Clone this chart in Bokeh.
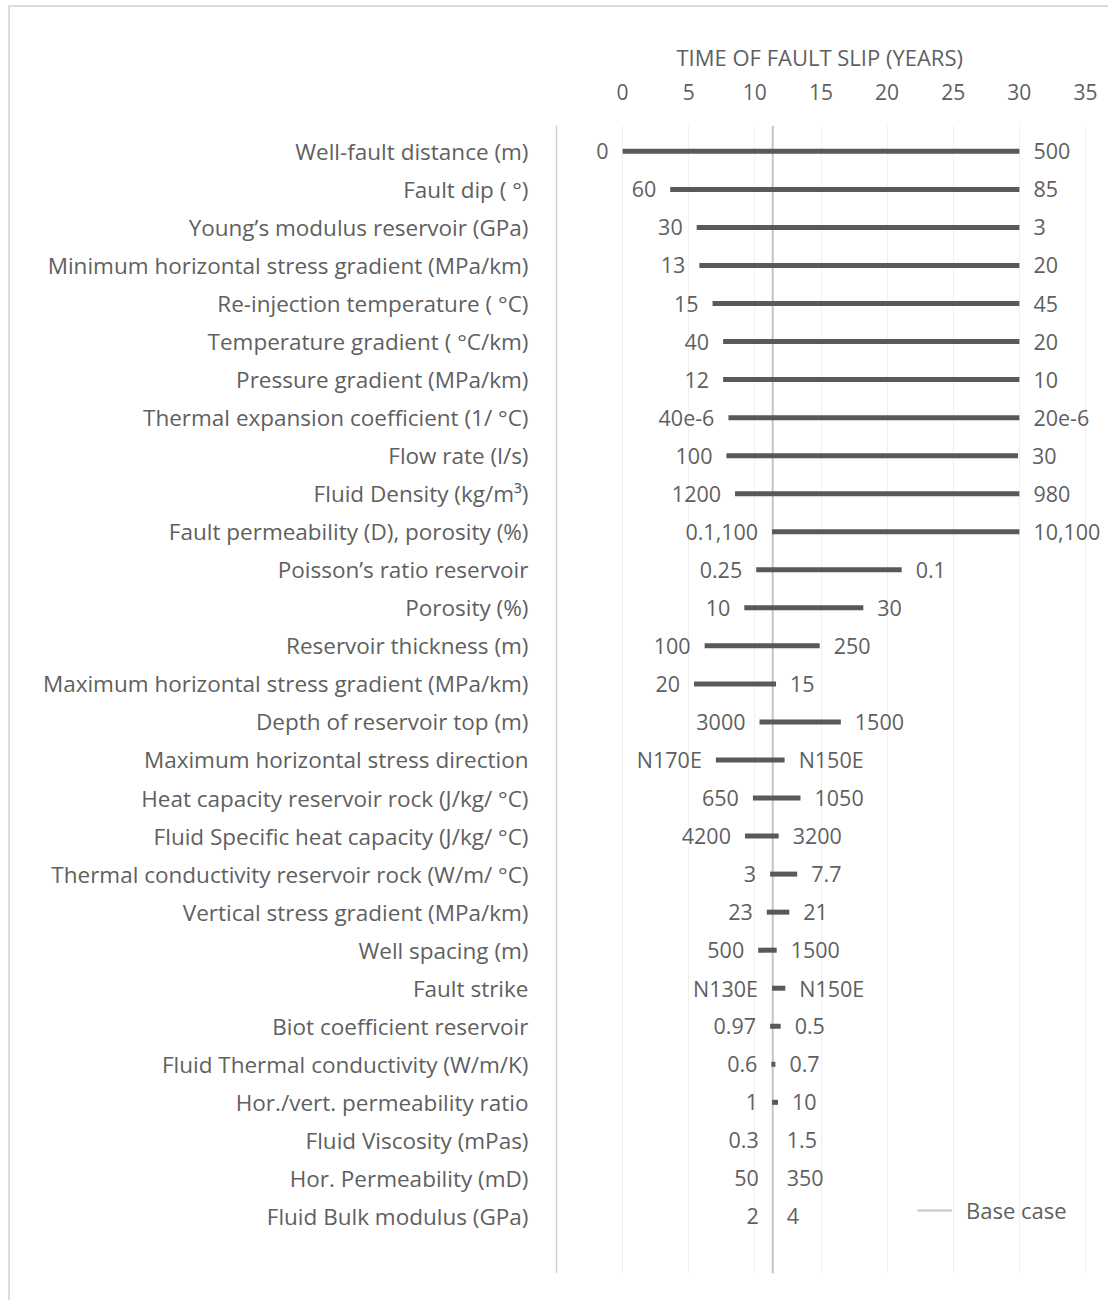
from bokeh.plotting import figure
from bokeh.models import (Range1d, FixedTicker, ColumnDataSource, Legend,
                          LegendItem, LabelSet)
from bokeh.core.properties import value
from bokeh.embed import file_html
from bokeh.resources import INLINE

# Sensitivity of the time of fault slip to each input parameter
parameters = [
    "Well-fault distance (m)",
    "Fault dip ( \u00b0)",
    "Young\u2019s modulus reservoir (GPa)",
    "Minimum horizontal stress gradient (MPa/km)",
    "Re-injection temperature ( \u00b0C)",
    "Temperature gradient ( \u00b0C/km)",
    "Pressure gradient (MPa/km)",
    "Thermal expansion coefficient (1/ \u00b0C)",
    "Flow rate (l/s)",
    "Fluid Density (kg/m\u00b3)",
    "Fault permeability (D), porosity (%)",
    "Poisson\u2019s ratio reservoir",
    "Porosity (%)",
    "Reservoir thickness (m)",
    "Maximum horizontal stress gradient (MPa/km)",
    "Depth of reservoir top (m)",
    "Maximum horizontal stress direction",
    "Heat capacity reservoir rock (J/kg/ \u00b0C)",
    "Fluid Specific heat capacity (J/kg/ \u00b0C)",
    "Thermal conductivity reservoir rock (W/m/ \u00b0C)",
    "Vertical stress gradient (MPa/km)",
    "Well spacing (m)",
    "Fault strike",
    "Biot coefficient reservoir",
    "Fluid Thermal conductivity (W/m/K)",
    "Hor./vert. permeability ratio",
    "Fluid Viscosity (mPas)",
    "Hor. Permeability (mD)",
    "Fluid Bulk modulus (GPa)",
]

# Parameter values at the two ends of each bar
low_labels = ["0", "60", "30", "13", "15", "40", "12", "40e-6", "100", "1200",
              "0.1,100", "0.25", "10", "100", "20", "3000", "N170E", "650", "4200",
              "3", "23", "500", "N130E", "0.97", "0.6", "1", "0.3", "50", "2"]
high_labels = ["500", "85", "3", "20", "45", "20", "10", "20e-6", "30", "980",
               "10,100", "0.1", "30", "250", "15", "1500", "N150E", "1050", "3200",
               "7.7", "21", "1500", "N150E", "0.5", "0.7", "10", "1.5", "350", "4"]

# Time of fault slip (years) for the low and high parameter value
slip_low = [0.0, 3.6, 5.6, 5.8, 6.8, 7.6, 7.6, 8.0, 7.85, 8.5,
            11.3, 10.1, 9.2, 6.2, 5.4, 10.35, 7.05, 9.85, 9.25,
            11.15, 10.9, 10.25, 11.3, 11.15, 11.25, 11.3, 11.35, 11.35, 11.35]
slip_high = [30.0, 30.0, 30.0, 30.0, 30.0, 30.0, 30.0, 30.0, 29.9, 30.0,
             30.0, 21.1, 18.2, 14.9, 11.6, 16.5, 12.25, 13.45, 11.8,
             13.2, 12.6, 11.65, 12.3, 11.95, 11.55, 11.75, 11.35, 11.35, 11.35]

base_case = 11.35
year_ticks = [0, 5, 10, 15, 20, 25, 30, 35]

TEXT = "#5f5f5f"
FONT = "Open Sans"

rows = list(range(len(parameters)))
src = ColumnDataSource(dict(row=rows, lo=slip_low, hi=slip_high,
                            lo_txt=low_labels, hi_txt=high_labels))

y_top, y_bottom = -0.68, len(parameters) + 0.5

# the frame runs a little past 35 years so the right-hand values have room
p = figure(width=1100, height=1295,
           x_range=Range1d(-5, 36.89), y_range=Range1d(y_bottom, y_top),
           x_axis_location="above", output_backend="svg", toolbar_location=None,
           min_border_left=546, min_border_right=0,
           min_border_top=118, min_border_bottom=29)
p.styles = {"margin-left": "8px", "margin-top": "5px",
            "border-top": "2px solid #dcdcdc", "border-left": "2px solid #dcdcdc"}
p.outline_line_color = None
p.background_fill_color = "white"
p.border_fill_color = "white"

# value-axis title
p.title.text = "TIME OF FAULT SLIP (YEARS)"
p.title.align = "left"
p.title.offset = 120
p.title.text_font = FONT
p.title.text_font_style = "normal"
p.title.text_font_size = "22px"
p.title.text_color = TEXT
p.title.standoff = 18

# top value axis
xa = p.xaxis[0]
xa.ticker = FixedTicker(ticks=year_ticks)
xa.major_label_text_font = FONT
xa.major_label_text_font_size = "21px"
xa.major_label_text_color = TEXT
xa.major_label_standoff = 20
xa.axis_line_color = None
xa.major_tick_line_color = None
xa.minor_tick_line_color = None

# parameter axis
ya = p.yaxis[0]
ya.ticker = FixedTicker(ticks=rows)
ya.major_label_overrides = {i: name for i, name in enumerate(parameters)}
ya.major_label_text_font = FONT
ya.major_label_text_font_size = "22.5px"
ya.major_label_text_color = TEXT
ya.major_label_standoff = 22
ya.axis_line_color = "#d4d4d4"
ya.axis_line_width = 1.5
ya.major_tick_line_color = None
ya.minor_tick_line_color = None

p.xgrid.ticker = FixedTicker(ticks=year_ticks)
p.xgrid.grid_line_color = "#f0f0f0"
p.xgrid.grid_line_width = 1
p.ygrid.grid_line_color = None

# base case reference line
base = p.segment(x0=base_case, x1=base_case, y0=y_top, y1=y_bottom,
                 line_color="#c4c4c4", line_width=2)

# range bars
p.segment(x0="lo", x1="hi", y0="row", y1="row", source=src,
          line_color="#595959", line_width=5, line_cap="butt")

# parameter values at the bar ends
for col, txt, off, align in (("lo", "lo_txt", -14, "right"),
                             ("hi", "hi_txt", 14, "left")):
    p.add_layout(LabelSet(x=col, y="row", text=txt, source=src, x_offset=off,
                          text_align=align, text_baseline="middle",
                          text_font=value(FONT), text_font_size="21.5px",
                          text_color=TEXT))

legend = Legend(items=[LegendItem(label="Base case", renderers=[base])],
                location=(361, 48), padding=0, margin=0,
                border_line_color=None, background_fill_alpha=0,
                glyph_width=35, glyph_height=24, label_height=24,
                label_standoff=14, label_text_font=FONT,
                label_text_font_size="22px", label_text_color=TEXT)
p.add_layout(legend)

open("out.html", "w").write(file_html(p, INLINE))
